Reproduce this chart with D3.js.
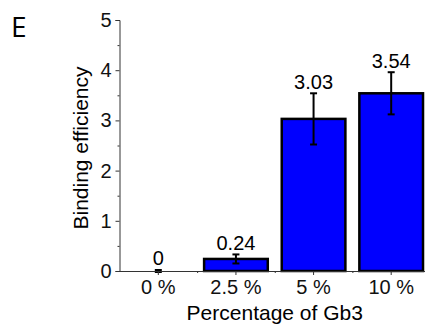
<!DOCTYPE html>
<html>
<head>
<meta charset="utf-8">
<script src="https://cdn.jsdelivr.net/npm/d3@7"></script>
<style>
  body { margin: 0; background: #fff; }
  svg { display: block; font-family: "Liberation Sans", Arial, sans-serif; }
</style>
</head>
<body>
<svg id="chart" width="425" height="326"></svg>
<script>
let categories = ["0 %", "2.5 %", "5 %", "10 %"]
let means = [0, 0.24, 3.03, 3.54]
let errors = [0.02, 0.09, 0.51, 0.42]
let labels = ["0", "0.24", "3.03", "3.54"]
let yTicks = [0, 1, 2, 3, 4, 5]
let yMinor = [0.5, 1.5, 2.5, 3.5, 4.5]

let marginLeft = 119.5,
    plotRight = 430,
    y0 = 271,
    y5 = 20;

let svg = d3.select("#chart")

let x = d3.scaleBand(categories, [marginLeft, plotRight]).paddingInner(0.18).paddingOuter(0.09)
let xMinor = d3.scaleLinear([0, categories.length], [marginLeft, plotRight])
let y = d3.scaleLinear([0, 5], [y0, y5])

// panel letter
svg.append("text")
    .attr("x", 11)
    .attr("y", 37)
    .attr("font-family", "'Open Sans', sans-serif")
    .attr("font-size", 28)
    .text("E")

// bars
svg.append("g")
    .selectAll("rect")
    .data(means)
    .join("rect")
    .attr("x", (d, i) => x(categories[i]))
    .attr("y", d => y(d))
    .attr("width", x.bandwidth())
    .attr("height", d => y(0) - y(d))
    .attr("fill", "#0000ff")
    .attr("stroke", "#000")
    .attr("stroke-width", 2.5)

// error bars
let err = svg.append("g").attr("stroke", "#000").attr("stroke-width", 2)
let cx = i => x(categories[i]) + x.bandwidth() / 2
err.selectAll("line.v")
    .data(means)
    .join("line")
    .attr("class", "v")
    .attr("x1", (d, i) => cx(i))
    .attr("x2", (d, i) => cx(i))
    .attr("y1", (d, i) => y(d - errors[i]))
    .attr("y2", (d, i) => y(d + errors[i]))
err.selectAll("line.top")
    .data(means)
    .join("line")
    .attr("class", "top")
    .attr("x1", (d, i) => cx(i) - 3.5)
    .attr("x2", (d, i) => cx(i) + 3.5)
    .attr("y1", (d, i) => y(d + errors[i]))
    .attr("y2", (d, i) => y(d + errors[i]))
err.selectAll("line.bot")
    .data(means)
    .join("line")
    .attr("class", "bot")
    .attr("x1", (d, i) => cx(i) - 3.5)
    .attr("x2", (d, i) => cx(i) + 3.5)
    .attr("y1", (d, i) => y(d - errors[i]))
    .attr("y2", (d, i) => y(d - errors[i]))

// value labels
svg.append("g")
    .selectAll("text")
    .data(means)
    .join("text")
    .attr("x", (d, i) => cx(i))
    .attr("y", (d, i) => y(d + errors[i]) - 4.5)
    .attr("text-anchor", "middle")
    .attr("font-size", 20)
    .text((d, i) => labels[i])

// y axis
let gy = svg.append("g")
    .attr("transform", `translate(${marginLeft},0)`)
    .call(d3.axisLeft(y).tickValues(yTicks).tickSize(4).tickPadding(4).tickFormat(d3.format("d")))
gy.selectAll("text").attr("font-size", 20).attr("font-family", "'Liberation Sans', Arial, sans-serif").attr("fill", "#111")
gy.append("g")
    .call(d3.axisLeft(y).tickValues(yMinor).tickSize(2).tickFormat(""))
    .select(".domain").remove()

// x axis
let gx = svg.append("g")
    .attr("transform", `translate(0,${y0})`)
    .call(d3.axisBottom(x).tickSize(4).tickSizeOuter(0).tickPadding(5))
gx.selectAll("text").attr("font-size", 20).attr("font-family", "'Liberation Sans', Arial, sans-serif").attr("fill", "#111")
gx.append("g")
    .call(d3.axisBottom(xMinor).tickValues([1, 2, 3]).tickSize(2).tickFormat(""))
    .select(".domain").remove()

svg.selectAll(".domain, .tick line").attr("stroke", "#333")

// axis titles
svg.append("text")
    .attr("x", (marginLeft + plotRight) / 2)
    .attr("y", 320)
    .attr("text-anchor", "middle")
    .attr("font-size", 21)
    .text("Percentage of Gb3")

svg.append("text")
    .attr("transform", "translate(88,148) rotate(-90)")
    .attr("text-anchor", "middle")
    .attr("font-size", 21)
    .text("Binding efficiency")
</script>
</body>
</html>
